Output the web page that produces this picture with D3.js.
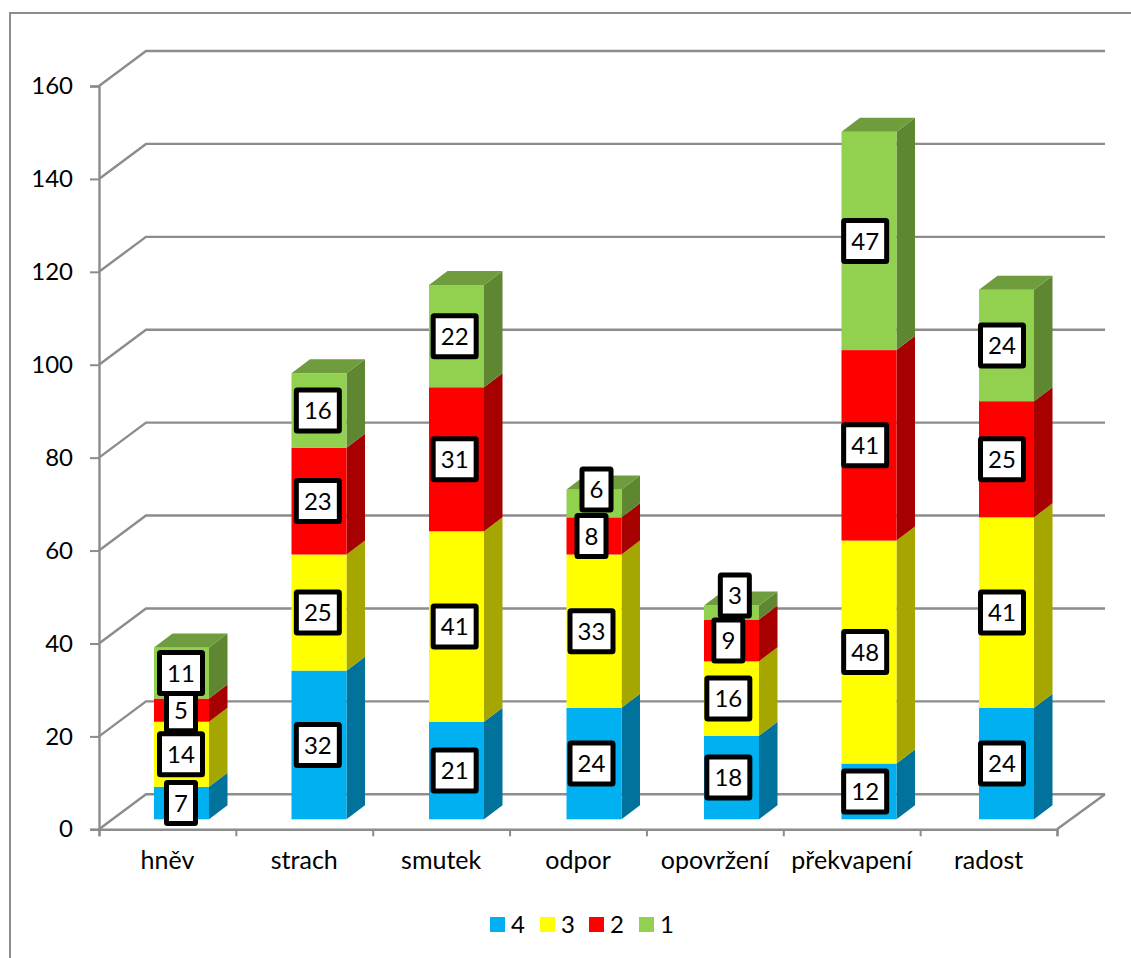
<!DOCTYPE html>
<html>
<head>
<meta charset="utf-8">
<script src="https://cdn.jsdelivr.net/npm/d3@7"></script>
<style>
    body { margin: 0; background: #fff; }
    svg { display: block; }
    text { font-family: Lato, "Open Sans", sans-serif; fill: #000; }
</style>
</head>
<body>
<svg id="chart" width="1131" height="958"></svg>
<script>
const categories = ['hněv', 'strach', 'smutek', 'odpor', 'opovržení', 'překvapení', 'radost'];
const seriesNames = ['4', '3', '2', '1'];
const values4 = [7, 32, 21, 24, 18, 12, 24];
const values3 = [14, 25, 41, 33, 16, 48, 41];
const values2 = [5, 23, 31, 8, 9, 41, 25];
const values1 = [11, 16, 22, 6, 3, 47, 24];
const yTicks = [0, 20, 40, 60, 80, 100, 120, 140, 160];

const frontColors = ['#00B0F0', '#FFFF00', '#FF0000', '#92D050'];
const sideColors = ['#00729C', '#A6A600', '#A60000', '#5F8732'];
const topColor = '#6F9C3C';
const gridColor = '#8C8C8C';

const svg = d3.select('#chart');

// wall and floor depth of the 3d box, then the bars' own smaller depth
const wall = { dx: 47, dy: -35 };
const barShift = { dx: 14, dy: -10 };
const barDepth = { dx: 18.5, dy: -14 };
const barWidth = 55;

const y = d3.scaleLinear().domain([0, 160]).range([829.3, 86]);
const xBand = d3.scaleBand().domain(categories).range([99, 1057]);
const xTicks = d3.scaleLinear().domain([0, 7]).range([99, 1057]);
const barX = d3.scaleLinear().domain([0, 6]).range([154, 979]);
const labelX = d3.scaleLinear().domain([0, 6]).range([181, 1002]);

// outer frame, only left and top are visible
svg.append('path')
    .attr('d', 'M10,958V13H1131')
    .attr('fill', 'none')
    .attr('stroke', gridColor)
    .attr('stroke-width', 2);

// gridlines: one diagonal on the side wall + one line along the back wall
const grid = svg.append('g').attr('fill', 'none').attr('stroke', gridColor).attr('stroke-width', 2.4);
yTicks.forEach(t => {
    const y0 = y(t);
    grid.append('path').attr('d', d3.line()([
        [99, y0],
        [99 + wall.dx, y0 + wall.dy],
        [1057 + wall.dx + 1, y0 + wall.dy]
    ]));
});
// front edge of the floor
grid.append('path').attr('d', d3.line()([
    [1057, y(0)],
    [1057 + wall.dx + 1, y(0) + wall.dy]
]));

// axes
const yAxis = svg.append('g')
    .attr('transform', 'translate(99,0)')
    .call(d3.axisLeft(y).tickValues(yTicks).tickSize(9).tickPadding(17));
const xAxis = svg.append('g')
    .attr('transform', `translate(0,${y(0)})`)
    .call(d3.axisBottom(xTicks).tickValues(d3.range(8)).tickSize(7).tickFormat(''));
const catAxis = svg.append('g')
    .attr('transform', `translate(0,${y(0)})`)
    .call(d3.axisBottom(xBand).tickSize(0).tickPadding(22));

[yAxis, xAxis, catAxis].forEach(a => {
    a.selectAll('.domain').attr('stroke', gridColor).attr('stroke-width', 2.4);
    a.selectAll('line').attr('stroke', gridColor).attr('stroke-width', 2);
    a.selectAll('text').style('font-family', 'Lato, "Open Sans", sans-serif').style('font-size', '24px').attr('fill', '#000');
});
catAxis.select('.domain').remove();
catAxis.selectAll('text').style('font-size', '25px');

// stack the four series
const rows = categories.map((c, i) => ({
    category: c, index: i,
    '4': values4[i], '3': values3[i], '2': values2[i], '1': values1[i]
}));
const stacked = d3.stack().keys(seriesNames)(rows);

const bars = svg.append('g');
stacked.forEach((layer, s) => {
    layer.forEach((d, i) => {
        const left = barX(i);
        const right = left + barWidth;
        const yLow = y(d[0]) + barShift.dy;
        const yHigh = y(d[1]) + barShift.dy;

        bars.append('path')
            .attr('d', d3.line()([
                [right, yLow],
                [right + barDepth.dx, yLow + barDepth.dy],
                [right + barDepth.dx, yHigh + barDepth.dy],
                [right, yHigh]
            ]) + 'Z')
            .attr('fill', sideColors[s]);

        bars.append('rect')
            .attr('x', left)
            .attr('y', yHigh)
            .attr('width', barWidth)
            .attr('height', yLow - yHigh)
            .attr('fill', frontColors[s]);

        if (s === seriesNames.length - 1) {
            bars.append('path')
                .attr('d', d3.line()([
                    [left, yHigh],
                    [left + barDepth.dx, yHigh + barDepth.dy],
                    [right + barDepth.dx, yHigh + barDepth.dy],
                    [right, yHigh]
                ]) + 'Z')
                .attr('fill', topColor);
        }
    });
});

// two small top labels were dragged up out of their segments
const labelNudge = { 'odpor-1': [5, -14], 'opovržení-1': [6.5, -17] };

// series 2 goes first so its boxes end up under the neighbouring ones
const labelOrder = [2, 0, 1, 3];
const labels = svg.append('g');
labelOrder.forEach(s => {
    stacked[s].forEach((d, i) => {
        const value = d[1] - d[0];
        const nudge = labelNudge[categories[i] + '-' + seriesNames[s]] || [0, 0];
        const cx = labelX(i) + nudge[0];
        const cy = y((d[0] + d[1]) / 2) + barShift.dy + nudge[1];
        const w = value >= 10 ? 43 : 29;
        const h = 41;

        const g = labels.append('g').attr('transform', `translate(${cx},${cy})`);
        g.append('rect')
            .attr('x', -w / 2)
            .attr('y', -h / 2)
            .attr('width', w)
            .attr('height', h)
            .attr('rx', 1)
            .attr('fill', '#fff')
            .attr('stroke', '#000')
            .attr('stroke-width', 5);
        g.append('text')
            .attr('text-anchor', 'middle')
            .attr('dy', '0.36em')
            .attr('font-size', 24)
            .text(value);
    });
});

// legend
const legendX = [490, 540, 589, 639];
const legend = svg.append('g');
seriesNames.forEach((name, s) => {
    legend.append('rect')
        .attr('x', legendX[s])
        .attr('y', 917)
        .attr('width', 15)
        .attr('height', 15)
        .attr('fill', frontColors[s]);
    legend.append('text')
        .attr('x', legendX[s] + 21)
        .attr('y', 933)
        .attr('font-size', 24)
        .text(name);
});
</script>
</body>
</html>
